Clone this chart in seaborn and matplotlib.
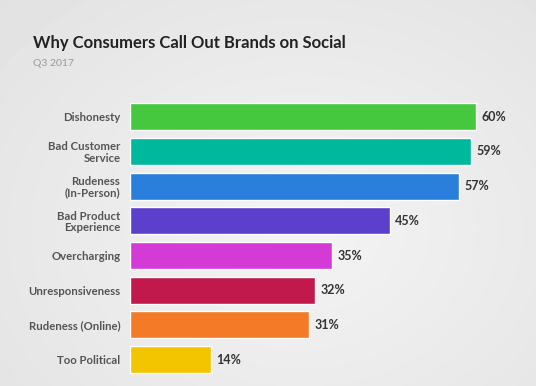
import matplotlib.pyplot as plt
import seaborn as sns
import numpy as np
import pandas as pd

reasons = ['Dishonesty', 'Bad Customer\nService', 'Rudeness\n(In-Person)', 'Bad Product\nExperience',
           'Overcharging', 'Unresponsiveness', 'Rudeness (Online)', 'Too Political']
shares = [60, 59, 57, 45, 35, 32, 31, 14]
bar_colors = ['#45c83e', '#00b89c', '#2a7fdd', '#5c3fcb', '#d43bd6', '#c2194d', '#f57a28', '#f2c500']

sns.set_theme(style="white")
plt.rcParams['font.family'] = ['Lato', 'DejaVu Sans']

df = pd.DataFrame({'reason': reasons, 'share': shares})

fig = plt.figure(figsize=(5.36, 3.86), dpi=100)

# soft radial grey background
bg = fig.add_axes([0, 0, 1, 1])
yy, xx = np.mgrid[0:386, 0:536]
r = np.sqrt(((xx - 300) / 420.0) ** 2 + ((yy - 230) / 330.0) ** 2)
bg.imshow(0.955 - 0.07 * r, cmap='gray', vmin=0, vmax=1, aspect='auto')
bg.axis('off')

ax = fig.add_axes([130 / 536, 9 / 386, 404 / 536, 277.6 / 386])
sns.barplot(x='share', y='reason', data=df, hue='reason', palette=bar_colors,
            dodge=False, legend=False, width=0.78, saturation=1, ax=ax)
ax.set_facecolor('none')
ax.set_xlim(0, 70)
ax.set_ylim(7.5, -0.5)
sns.despine(ax=ax, left=True, bottom=True)
ax.set_xticks([])
ax.set_xlabel('')
ax.set_ylabel('')
ax.tick_params(axis='y', length=0, pad=7)
for lbl in ax.get_yticklabels():
    lbl.set_fontsize(8.2)
    lbl.set_fontweight('bold')
    lbl.set_color('#555555')
    lbl.set_multialignment('right')
    lbl.set_linespacing(1.05)

for p in ax.patches:
    w = p.get_width()
    ax.annotate(f'{w:.0f}%', (w, p.get_y() + p.get_height() / 2.),
                ha='left', va='center', xytext=(4, 0), textcoords='offset points',
                fontsize=9, fontweight='bold', color='#333333')

fig.text(33 / 536, 1 - 43 / 386, 'Why Consumers Call Out Brands on Social',
         fontsize=12, fontweight='bold', color='#222222', va='center')
fig.text(33 / 536, 1 - 64 / 386, 'Q3 2017', fontsize=7.5, color='#999999', va='center')

plt.savefig('out.png', dpi=100)
